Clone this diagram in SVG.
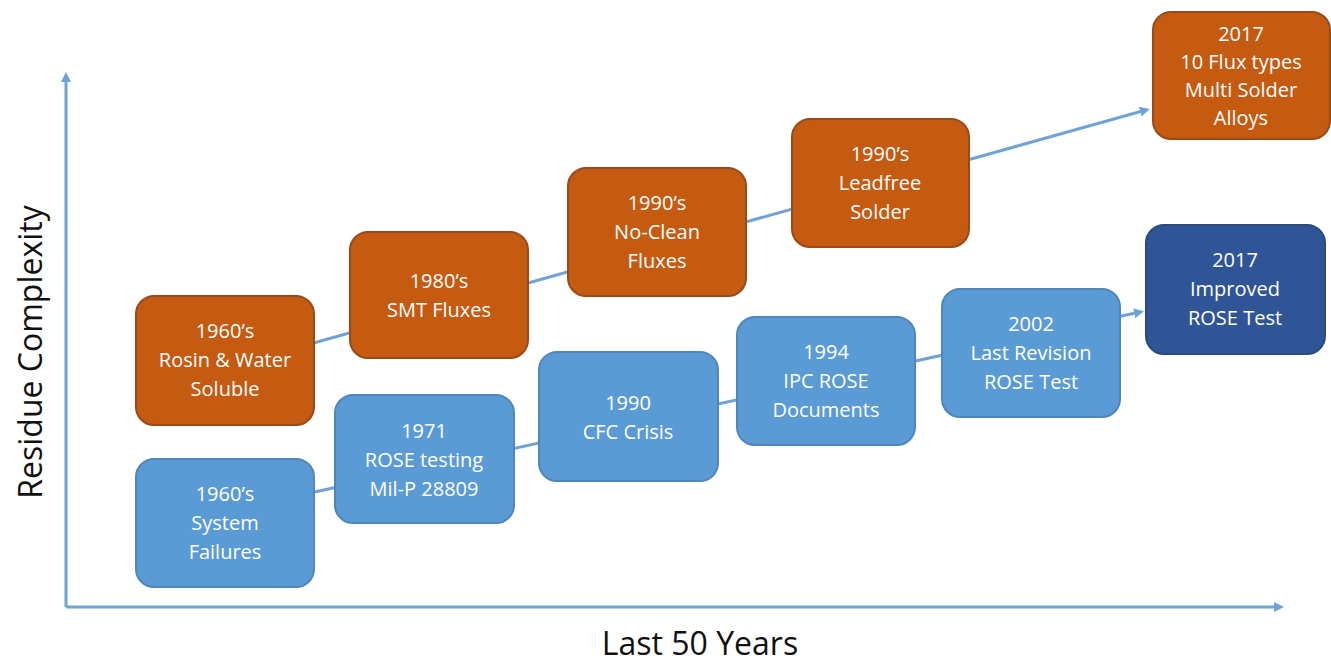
<svg xmlns="http://www.w3.org/2000/svg" width="1331" height="665" viewBox="0 0 1331 665">
<style>
.o{fill:#C55A11;stroke:#9A4A18;stroke-width:2}
.b{fill:#5B9BD5;stroke:#4F86BC;stroke-width:2}
.d{fill:#2F5597;stroke:#2A4A80;stroke-width:2}
.t{font-family:"Open Sans","Liberation Sans",sans-serif;font-size:20px;fill:#FFFFFF;text-anchor:middle}
.ax{font-family:"Open Sans","Liberation Sans",sans-serif;font-size:32px;fill:#111;text-anchor:middle}
.ln{stroke:#6FA3D6;stroke-width:3;fill:none}
</style>
<defs>
<marker id="ah" markerWidth="10" markerHeight="10" refX="6" refY="5" orient="auto" markerUnits="userSpaceOnUse">
<path d="M0,0 L10,5 L0,10 Z" fill="#6FA3D6"/>
</marker>
</defs>
<g id="connectors">
<line class="ln" x1="66" y1="607" x2="66" y2="76" marker-end="url(#ah)"/>
<line class="ln" x1="66" y1="607" x2="1280" y2="607" marker-end="url(#ah)"/>
<line class="ln" x1="310" y1="344" x2="1146" y2="110" marker-end="url(#ah)"/>
<line class="ln" x1="310" y1="493" x2="1140" y2="312" marker-end="url(#ah)"/>
</g>
<g id="n1"><rect class="o" x="136" y="296" width="178" height="129" rx="18"/><text class="t" x="225" y="338">1960’s</text><text class="t" x="225" y="367">Rosin &amp; Water</text><text class="t" x="225" y="396">Soluble</text></g>
<g id="n2"><rect class="o" x="350" y="232" width="178" height="126" rx="18"/><text class="t" x="439" y="288">1980’s</text><text class="t" x="439" y="317">SMT Fluxes</text></g>
<g id="n3"><rect class="o" x="568" y="168" width="178" height="128" rx="18"/><text class="t" x="657" y="210">1990’s</text><text class="t" x="657" y="239">No-Clean</text><text class="t" x="657" y="268">Fluxes</text></g>
<g id="n4"><rect class="o" x="792" y="119" width="177" height="128" rx="18"/><text class="t" x="880" y="161">1990’s</text><text class="t" x="880" y="190">Leadfree</text><text class="t" x="880" y="219">Solder</text></g>
<g id="n5"><rect class="o" x="1153" y="12" width="177" height="127" rx="18"/><text class="t" x="1241" y="41">2017</text><text class="t" x="1241" y="69">10 Flux types</text><text class="t" x="1241" y="97">Multi Solder</text><text class="t" x="1241" y="125">Alloys</text></g>
<g id="m1"><rect class="b" x="136" y="459" width="178" height="128" rx="18"/><text class="t" x="225" y="501">1960’s</text><text class="t" x="225" y="530">System</text><text class="t" x="225" y="559">Failures</text></g>
<g id="m2"><rect class="b" x="335" y="395" width="179" height="128" rx="18"/><text class="t" x="424" y="438">1971</text><text class="t" x="424" y="467">ROSE testing</text><text class="t" x="424" y="496">Mil-P 28809</text></g>
<g id="m3"><rect class="b" x="539" y="352" width="179" height="129" rx="18"/><text class="t" x="628" y="410">1990</text><text class="t" x="628" y="439">CFC Crisis</text></g>
<g id="m4"><rect class="b" x="737" y="317" width="178" height="128" rx="18"/><text class="t" x="826" y="359">1994</text><text class="t" x="826" y="388">IPC ROSE</text><text class="t" x="826" y="417">Documents</text></g>
<g id="m5"><rect class="b" x="942" y="289" width="178" height="128" rx="18"/><text class="t" x="1031" y="331">2002</text><text class="t" x="1031" y="360">Last Revision</text><text class="t" x="1031" y="389">ROSE Test</text></g>
<g id="m6"><rect class="d" x="1146" y="225" width="179" height="129" rx="18"/><text class="t" x="1235" y="267">2017</text><text class="t" x="1235" y="296">Improved</text><text class="t" x="1235" y="325">ROSE Test</text></g>
<text class="ax" transform="translate(42,352) rotate(-90)">Residue Complexity</text>
<text class="ax" x="700" y="655">Last 50 Years</text>
</svg>
